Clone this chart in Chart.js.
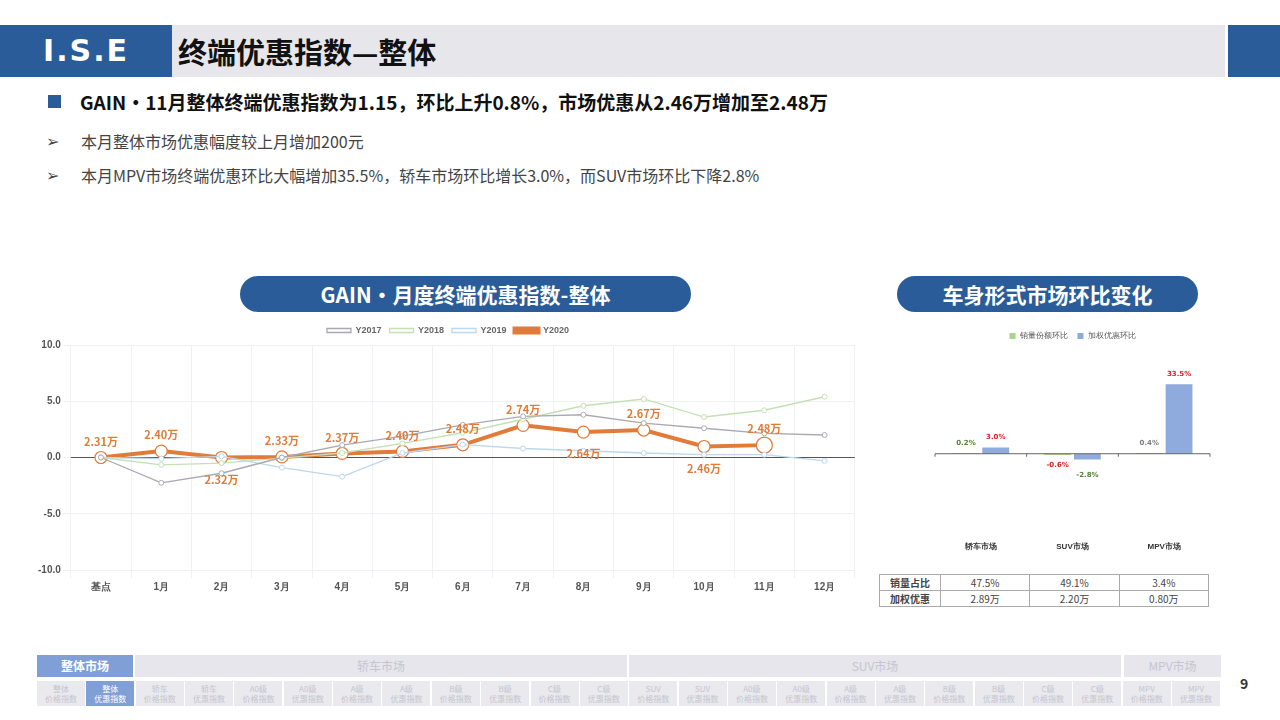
<!DOCTYPE html>
<html><head><meta charset="utf-8">
<script src="https://cdn.jsdelivr.net/npm/chart.js@4/dist/chart.umd.min.js"></script>
<style>
body{margin:0;width:1280px;height:720px;position:relative;background:#fff;font-family:"Noto Sans CJK SC","Noto Sans",sans-serif;overflow:hidden}
.a{position:absolute}
.pill{background:#2a5c9a;color:#fff;font-weight:bold;font-size:21px;text-align:center;border-radius:18px;line-height:36px;height:36px}
.cell{position:absolute;top:681px;height:25px;width:48px;background:#e9e9ee;color:#c5c5cf;font-size:8px;text-align:center;line-height:10px;padding-top:3px;box-sizing:border-box}
table{border-collapse:collapse;font-size:10px;color:#444}
td{border:1px solid #aaa;height:15px;text-align:center;padding:0}
</style></head><body>
<div class="a" style="left:0;top:25px;width:172px;height:52px;background:#2a5c9a;color:#fff;font:bold 30px 'DejaVu Sans';line-height:52px;text-align:center;letter-spacing:2px">I.S.E</div>
<div class="a" style="left:172px;top:25px;width:1053px;height:52px;background:#e6e6eb"></div>
<div class="a" style="left:178px;top:25px;line-height:52px;font-size:29px;font-weight:bold;color:#111">终端优惠指数—整体</div>
<div class="a" style="left:1228px;top:25px;width:52px;height:52px;background:#2a5c9a"></div>
<div class="a" style="left:48px;top:95px;width:13px;height:13px;background:#2a5c9a"></div>
<div class="a" style="left:80px;top:88px;font-size:19px;font-weight:bold;color:#111">GAIN·11月整体终端优惠指数为1.15，环比上升0.8%，市场优惠从2.46万增加至2.48万</div>
<div class="a" style="left:46px;top:128px;font-size:16px;color:#444">➢</div>
<div class="a" style="left:81px;top:129px;font-size:16px;color:#444">本月整体市场优惠幅度较上月增加200元</div>
<div class="a" style="left:46px;top:162px;font-size:16px;color:#444">➢</div>
<div class="a" style="left:81px;top:163px;font-size:16px;color:#444">本月MPV市场终端优惠环比大幅增加35.5%，轿车市场环比增长3.0%，而SUV市场环比下降2.8%</div>
<div class="a pill" style="left:240px;top:276px;width:451px">GAIN·月度终端优惠指数-整体</div>
<div class="a pill" style="left:897px;top:276px;width:301px">车身形式市场环比变化</div>
<div class="a" style="left:36px;top:318px;width:828px;height:278px"><canvas id="c1"></canvas></div>
<div class="a" style="left:880px;top:322px;width:340px;height:236px"><canvas id="c2"></canvas></div>
<table class="a" style="left:879px;top:574px;width:330px">
<tr><td style="width:60px;font-weight:bold">销量占比</td><td>47.5%</td><td>49.1%</td><td>3.4%</td></tr>
<tr><td style="font-weight:bold">加权优惠</td><td>2.89万</td><td>2.20万</td><td>0.80万</td></tr></table>
<div class="a" style="left:37px;top:655px;width:96px;height:22px;background:#7f9fd6;color:#fff;font-size:12px;font-weight:bold;text-align:center;line-height:22px">整体市场</div>
<div class="a" style="left:135px;top:655px;width:492px;height:22px;background:#e6e6ec;color:#c5c5cf;font-size:12px;text-align:center;line-height:22px">轿车市场</div>
<div class="a" style="left:629px;top:655px;width:492px;height:22px;background:#e6e6ec;color:#c5c5cf;font-size:12px;text-align:center;line-height:22px">SUV市场</div>
<div class="a" style="left:1124px;top:655px;width:97px;height:22px;background:#e6e6ec;color:#c5c5cf;font-size:12px;text-align:center;line-height:22px">MPV市场</div>
<div id="cells"></div>
<div class="a" style="left:1240px;top:673px;font-size:14px;font-weight:bold;color:#333">9</div>
<script>
const categories=['基点','1月','2月','3月','4月','5月','6月','7月','8月','9月','10月','11月','12月'];
const y2017=[0,-2.25,-1.4,0,1.1,1.9,2.9,3.65,3.8,3.05,2.6,2.15,2.0];
const y2018=[0,-0.65,-0.5,-0.05,0.4,1.25,2.2,3.4,4.6,5.2,3.6,4.2,5.4];
const y2019=[0,-0.1,0.1,-0.9,-1.7,0.4,1.15,0.8,0.6,0.4,0.25,0.25,-0.3];
const y2020=[0,0.57,0,0.05,0.36,0.54,1.13,2.86,2.26,2.44,0.98,1.1];
const y2020Labels=['2.31万','2.40万','2.32万','2.33万','2.37万','2.40万','2.48万','2.74万','2.64万','2.67万','2.46万','2.48万'];
const labelBelow=[false,false,true,false,false,false,false,false,true,false,true,false];
const yTicks=[10,5,0,-5,-10];
const markets=['轿车市场','SUV市场','MPV市场'];
const shareChange=[0.2,-0.6,0.4];
const discountChange=[3.0,-2.8,33.5];
const shareColors=['#548235','#e02020','#7f7f7f'];
const discColors=['#e02020','#548235','#e02020'];
const navCells=['整体|价格指数','整体|优惠指数','轿车|价格指数','轿车|优惠指数','A0级|价格指数','A0级|优惠指数','A级|价格指数','A级|优惠指数','B级|价格指数','B级|优惠指数','C级|价格指数','C级|优惠指数','SUV|价格指数','SUV|优惠指数','A0级|价格指数','A0级|优惠指数','A级|价格指数','A级|优惠指数','B级|价格指数','B级|优惠指数','C级|价格指数','C级|优惠指数','MPV|价格指数','MPV|优惠指数'];
let h='';navCells.forEach((t,i)=>{const p=t.split('|');h+=`<div class="cell" style="left:${37+i*49.35}px;${i==1?'background:#7f9fd6;color:#fff;':''}">${p[0]}<br>${p[1]}</div>`});
document.getElementById('cells').innerHTML=h;

const lblPlugin={id:'l1',afterDatasetsDraw(ch){const ctx=ch.ctx;const m=ch.getDatasetMeta(3);ctx.save();ctx.font='bold 11px "Noto Sans CJK SC"';ctx.fillStyle='#e07b39';ctx.textAlign='center';
m.data.forEach((p,i)=>{ctx.fillText(y2020Labels[i],p.x,labelBelow[i]?p.y+22:p.y-16)});ctx.restore();}};
const zeroPlugin={id:'z1',beforeDatasetsDraw(ch){const y=ch.scales.y.getPixelForValue(0);const ctx=ch.ctx;ctx.save();ctx.strokeStyle='#555';ctx.lineWidth=1;ctx.beginPath();ctx.moveTo(ch.chartArea.left,y);ctx.lineTo(ch.chartArea.right,y);ctx.stroke();ctx.restore();}};
const thin=(l,d,c)=>({label:l,data:d,borderColor:c,backgroundColor:'#fff',pointBorderColor:c,borderWidth:1.3,pointRadius:2.5,pointBorderWidth:1});
new Chart(document.getElementById('c1'),{type:'line',data:{labels:categories,datasets:[
thin('Y2017',y2017,'#a9a9b4'),thin('Y2018',y2018,'#c5e0b4'),thin('Y2019',y2019,'#bdd7ee'),
{label:'Y2020',data:y2020,borderColor:'#e07b39',backgroundColor:'#fff',pointBorderColor:'#e07b39',borderWidth:4,pointRadius:ctx=>ctx.dataIndex==11?8:6,pointBorderWidth:1.2}]},
options:{responsive:true,maintainAspectRatio:false,animation:false,layout:{padding:{right:4}},
plugins:{legend:{labels:{boxWidth:24,boxHeight:4,usePointStyle:false,font:{size:9,weight:'bold'},color:'#666',padding:8}},tooltip:{enabled:false}},
scales:{x:{offset:true,grid:{offset:true,color:'#eef0f4'},border:{display:false},ticks:{font:{size:10,weight:'bold'},color:'#555'}},
y:{min:-10,max:10,afterBuildTicks:s=>{s.ticks=yTicks.map(v=>({value:v}))},grid:{color:'#eef0f4'},border:{display:false},ticks:{padding:2,callback:v=>v.toFixed(1),font:{size:10,weight:'bold'},color:'#555'}}}},
plugins:[lblPlugin,zeroPlugin]});

const barLbl={id:'l2',afterDatasetsDraw(ch){const ctx=ch.ctx;ctx.save();ctx.font='bold 7px "DejaVu Sans"';ctx.textAlign='center';
[0,1].forEach(d=>{ch.getDatasetMeta(d).data.forEach((b,i)=>{const v=ch.data.datasets[d].data[i];ctx.fillStyle=(d?discColors:shareColors)[i];ctx.fillText(v.toFixed(1)+'%',b.x,v>=0?b.y-10:b.y+(d?16:10))})});
const y=ch.scales.y.getPixelForValue(0);ctx.strokeStyle='#666';ctx.beginPath();ctx.moveTo(ch.chartArea.left,y);ctx.lineTo(ch.chartArea.right,y);
for(let k=0;k<=3;k++){const x=ch.chartArea.left+k*(ch.chartArea.right-ch.chartArea.left)/3;ctx.moveTo(x,y);ctx.lineTo(x,y+3);}ctx.stroke();ctx.restore();}};
new Chart(document.getElementById('c2'),{type:'bar',data:{labels:markets,datasets:[
{label:'销量份额环比',data:shareChange,backgroundColor:'#a9d18e'},{label:'加权优惠环比',data:discountChange,backgroundColor:'#8faadc'}]},
options:{responsive:true,maintainAspectRatio:false,animation:false,layout:{padding:{left:55,right:10}},categoryPercentage:0.65,barPercentage:0.9,
plugins:{legend:{labels:{boxWidth:6,boxHeight:6,font:{size:8},color:'#555',padding:10}},tooltip:{enabled:false}},
scales:{x:{grid:{display:false},border:{display:false},ticks:{font:{size:8,weight:'bold'},color:'#333',padding:6}},
y:{display:false,min:-36,max:50}}},plugins:[barLbl]});
</script></body></html>
